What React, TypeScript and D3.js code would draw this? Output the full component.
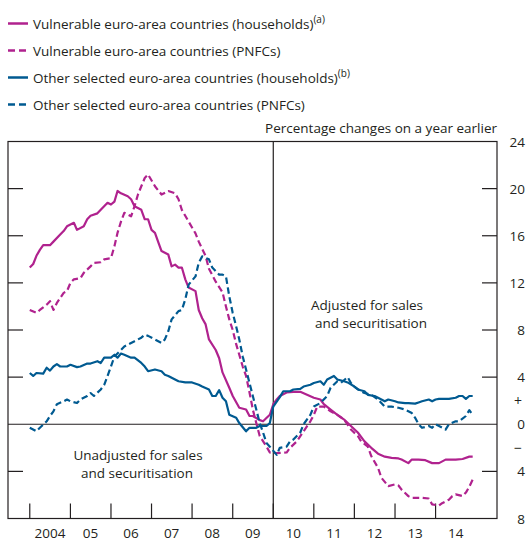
import React from "react";
import * as d3 from "d3";

// readings, percentage changes on a year earlier
const vulnerableHouseholds: [string, number][] = [
  ["2004-01", 13.3], ["2004-02", 13.6], ["2004-03", 14.3], ["2004-04", 14.8], ["2004-05", 15.2],
  ["2004-07", 15.2], ["2004-08", 15.5], ["2004-10", 16.1], ["2004-11", 16.4], ["2004-12", 16.8],
  ["2005-02", 17.1], ["2005-03", 16.5], ["2005-05", 16.8], ["2005-06", 17.4], ["2005-07", 17.7],
  ["2005-09", 17.9], ["2005-10", 18.2], ["2005-12", 18.8], ["2006-01", 18.65], ["2006-02", 18.9],
  ["2006-03", 19.8], ["2006-04", 19.6], ["2006-06", 19.35], ["2006-07", 19.1], ["2006-08", 18.5],
  ["2006-10", 18.2], ["2006-11", 17.4], ["2006-12", 17.4], ["2007-01", 16.5], ["2007-02", 16.25],
  ["2007-03", 15.5], ["2007-04", 14.7], ["2007-06", 14.4], ["2007-07", 13.4], ["2007-08", 13.55],
  ["2007-09", 13.3], ["2007-10", 13.3], ["2007-11", 12.3], ["2007-12", 11.6], ["2008-02", 11.3],
  ["2008-03", 9.7], ["2008-04", 9.0], ["2008-05", 8.5], ["2008-06", 7.2], ["2008-08", 6.3],
  ["2008-09", 5.6], ["2008-10", 4.4], ["2008-12", 3.1], ["2009-01", 2.4], ["2009-03", 1.4],
  ["2009-05", 1.25], ["2009-06", 0.7], ["2009-07", 0.7], ["2009-09", 0.35], ["2009-10", 0.25],
  ["2009-12", 0.8], ["2010-01", 1.7], ["2010-02", 2.1], ["2010-03", 2.4], ["2010-05", 2.7],
  ["2010-07", 2.75], ["2010-09", 2.75], ["2010-11", 2.5], ["2011-01", 2.25], ["2011-03", 2.1],
  ["2011-04", 1.7], ["2011-06", 1.25], ["2011-08", 0.8], ["2011-10", 0.4], ["2011-12", -0.15],
  ["2012-02", -0.7], ["2012-04", -1.45], ["2012-06", -2.0], ["2012-08", -2.5], ["2012-10", -2.75],
  ["2012-12", -2.85], ["2013-02", -2.9], ["2013-03", -3.0], ["2013-05", -3.3], ["2013-06", -3.0],
  ["2013-08", -3.0], ["2013-10", -3.05], ["2013-12", -3.3], ["2014-02", -3.3], ["2014-04", -3.0],
  ["2014-07", -3.0], ["2014-09", -2.95], ["2014-11", -2.75], ["2014-12", -2.75],
];

const vulnerablePNFCs: [string, number][] = [
  ["2004-01", 9.7], ["2004-03", 9.45], ["2004-04", 9.7], ["2004-06", 10.15], ["2004-07", 10.45],
  ["2004-08", 9.7], ["2004-09", 10.3], ["2004-11", 11.15], ["2004-12", 11.3], ["2005-01", 12.0],
  ["2005-02", 12.3], ["2005-04", 12.4], ["2005-05", 12.85], ["2005-07", 13.4], ["2005-08", 13.7],
  ["2005-10", 13.75], ["2005-11", 14.0], ["2006-01", 14.1], ["2006-02", 15.1], ["2006-03", 16.25],
  ["2006-04", 17.2], ["2006-05", 17.95], ["2006-06", 17.8], ["2006-07", 17.65], ["2006-08", 18.5],
  ["2006-09", 19.5], ["2006-10", 20.2], ["2006-11", 20.9], ["2006-12", 21.2], ["2007-02", 20.2],
  ["2007-04", 19.5], ["2007-06", 19.8], ["2007-08", 19.6], ["2007-09", 19.1], ["2007-10", 18.2],
  ["2007-12", 17.2], ["2008-02", 16.2], ["2008-03", 15.5], ["2008-05", 14.3], ["2008-06", 13.2],
  ["2008-08", 12.1], ["2008-10", 11.2], ["2008-11", 10.0], ["2008-12", 8.9], ["2009-01", 8.0],
  ["2009-02", 6.8], ["2009-04", 4.9], ["2009-05", 4.1], ["2009-06", 2.7], ["2009-07", 1.25],
  ["2009-08", 0.1], ["2009-09", -1.0], ["2009-11", -1.9], ["2009-12", -2.4], ["2010-02", -2.45],
  ["2010-05", -2.4], ["2010-06", -2.0], ["2010-08", -1.45], ["2010-10", -0.6], ["2010-12", 0.25],
  ["2011-01", 0.8], ["2011-02", 1.5], ["2011-04", 1.5], ["2011-06", 1.1], ["2011-08", 0.8],
  ["2011-10", 0.4], ["2011-12", -0.45], ["2012-02", -1.0], ["2012-03", -1.45], ["2012-05", -1.9],
  ["2012-06", -2.7], ["2012-08", -3.7], ["2012-09", -4.55], ["2012-11", -5.25], ["2013-01", -5.1],
  ["2013-02", -5.2], ["2013-03", -5.55], ["2013-05", -6.1], ["2013-06", -6.25], ["2013-09", -6.25],
  ["2013-11", -6.3], ["2013-12", -6.8], ["2014-02", -6.9], ["2014-03", -6.7], ["2014-05", -6.4],
  ["2014-06", -6.1], ["2014-07", -5.95], ["2014-09", -6.1], ["2014-10", -5.8], ["2014-11", -5.3],
  ["2014-12", -4.7],
];

const otherHouseholds: [string, number][] = [
  ["2004-01", 4.35], ["2004-02", 4.1], ["2004-03", 4.35], ["2004-05", 4.3], ["2004-06", 4.8],
  ["2004-07", 4.55], ["2004-08", 4.9], ["2004-09", 5.1], ["2004-10", 4.9], ["2004-12", 4.9],
  ["2005-01", 5.05], ["2005-03", 4.85], ["2005-04", 4.9], ["2005-06", 5.15], ["2005-07", 5.15],
  ["2005-09", 5.35], ["2005-10", 5.2], ["2005-11", 5.65], ["2006-01", 5.65], ["2006-02", 5.9],
  ["2006-03", 5.65], ["2006-04", 6.0], ["2006-05", 5.9], ["2006-07", 5.65], ["2006-08", 5.65],
  ["2006-10", 5.2], ["2006-11", 4.9], ["2006-12", 4.5], ["2007-02", 4.65], ["2007-04", 4.5],
  ["2007-05", 4.2], ["2007-06", 4.1], ["2007-08", 3.8], ["2007-09", 3.65], ["2007-11", 3.55],
  ["2008-01", 3.55], ["2008-03", 3.35], ["2008-04", 3.2], ["2008-06", 2.95], ["2008-07", 2.4],
  ["2008-08", 2.4], ["2008-09", 2.9], ["2008-10", 2.25], ["2008-11", 1.95], ["2008-12", 0.8],
  ["2009-02", 0.55], ["2009-03", 0.1], ["2009-05", -0.6], ["2009-06", -0.3], ["2009-08", -0.3],
  ["2009-09", -0.15], ["2009-11", -0.15], ["2009-12", 0.1], ["2010-01", 1.5], ["2010-03", 2.3],
  ["2010-04", 2.8], ["2010-06", 2.8], ["2010-07", 2.95], ["2010-09", 3.0], ["2010-10", 3.2],
  ["2010-12", 3.35], ["2011-01", 3.5], ["2011-03", 3.65], ["2011-04", 3.35], ["2011-05", 3.8],
  ["2011-07", 4.1], ["2011-08", 3.8], ["2011-10", 3.65], ["2011-11", 3.55], ["2012-01", 3.2],
  ["2012-02", 2.95], ["2012-04", 2.8], ["2012-05", 2.5], ["2012-07", 2.4], ["2012-08", 2.25],
  ["2012-10", 1.95], ["2012-11", 2.1], ["2013-01", 1.95], ["2013-02", 1.85], ["2013-04", 1.8],
  ["2013-05", 1.8], ["2013-07", 1.75], ["2013-08", 1.85], ["2013-09", 1.95], ["2013-11", 2.1],
  ["2013-12", 1.95], ["2014-01", 2.1], ["2014-02", 2.15], ["2014-04", 2.15], ["2014-05", 2.15],
  ["2014-07", 2.25], ["2014-08", 2.4], ["2014-09", 2.4], ["2014-10", 2.15], ["2014-11", 2.4],
  ["2014-12", 2.4],
];

const otherPNFCs: [string, number][] = [
  ["2004-01", -0.3], ["2004-03", -0.6], ["2004-04", -0.3], ["2004-06", 0.25], ["2004-07", 0.7],
  ["2004-08", 1.1], ["2004-09", 1.7], ["2004-11", 1.95], ["2004-12", 2.1], ["2005-01", 1.95],
  ["2005-03", 1.8], ["2005-04", 2.1], ["2005-06", 2.4], ["2005-07", 2.65], ["2005-08", 2.4],
  ["2005-10", 2.95], ["2005-11", 3.35], ["2005-12", 4.1], ["2006-01", 4.9], ["2006-02", 5.75],
  ["2006-04", 6.3], ["2006-05", 6.6], ["2006-07", 6.9], ["2006-08", 7.05], ["2006-10", 7.35],
  ["2006-11", 7.6], ["2006-12", 7.5], ["2007-02", 7.2], ["2007-04", 6.9], ["2007-05", 7.2],
  ["2007-06", 7.9], ["2007-07", 8.9], ["2007-09", 9.6], ["2007-10", 9.7], ["2007-11", 10.6],
  ["2007-12", 11.85], ["2008-02", 12.55], ["2008-03", 13.7], ["2008-04", 14.25], ["2008-06", 14.0],
  ["2008-07", 13.3], ["2008-09", 12.7], ["2008-10", 12.7], ["2008-11", 12.55], ["2008-12", 10.85],
  ["2009-01", 9.45], ["2009-02", 8.3], ["2009-03", 7.2], ["2009-04", 5.75], ["2009-05", 4.65],
  ["2009-06", 3.5], ["2009-07", 2.4], ["2009-08", 1.25], ["2009-09", 0.1], ["2009-10", -0.7],
  ["2009-11", -1.6], ["2009-12", -1.9], ["2010-02", -2.6], ["2010-03", -2.0], ["2010-05", -1.9],
  ["2010-06", -1.45], ["2010-07", -1.3], ["2010-09", -0.7], ["2010-10", 0.0], ["2010-12", 0.8],
  ["2011-01", 1.5], ["2011-03", 1.8], ["2011-05", 2.4], ["2011-06", 3.1], ["2011-08", 3.65],
  ["2011-09", 3.5], ["2011-11", 4.0], ["2011-12", 3.5], ["2012-01", 3.2], ["2012-03", 2.8],
  ["2012-04", 2.65], ["2012-06", 2.5], ["2012-08", 2.1], ["2012-10", 1.5], ["2012-12", 1.5],
  ["2013-02", 1.4], ["2013-04", 1.25], ["2013-06", 0.95], ["2013-07", 0.55], ["2013-08", 0.0],
  ["2013-09", -0.3], ["2013-11", -0.15], ["2013-12", -0.3], ["2014-01", 0.0], ["2014-02", -0.15],
  ["2014-04", -0.45], ["2014-05", 0.0], ["2014-07", 0.25], ["2014-08", 0.25], ["2014-10", 0.7],
  ["2014-11", 1.2], ["2014-12", 0.8],
];

const years = [2004, 2005, 2006, 2007, 2008, 2009, 2010, 2011, 2012, 2013, 2014];
const yearLabels = ["2004", "05", "06", "07", "08", "09", "10", "11", "12", "13", "14"];
const yTicks = [24, 20, 16, 12, 8, 4, 0, -4, -8];

const MAGENTA = "#b0228e";
const BLUE = "#005a91";
const INK = "#231f20";
const FONT = "'Open Sans', sans-serif";

const series = [
  { name: "Vulnerable euro-area countries (households)", sup: "(a)", data: vulnerableHouseholds, color: MAGENTA, dashed: false },
  { name: "Vulnerable euro-area countries (PNFCs)", sup: "", data: vulnerablePNFCs, color: MAGENTA, dashed: true },
  { name: "Other selected euro-area countries (households)", sup: "(b)", data: otherHouseholds, color: BLUE, dashed: false },
  { name: "Other selected euro-area countries (PNFCs)", sup: "", data: otherPNFCs, color: BLUE, dashed: true },
];

const parse = d3.timeParse("%Y-%m");

export default function App() {
  const width = 526;
  const height = 541;
  const left = 8, right = 497, top = 141.5, bottom = 518.5;

  const x = d3.scaleTime()
    .domain([new Date(2003, 5, 19), new Date(2015, 6, 8)])
    .range([left, right]);
  const y = d3.scaleLinear().domain([-8, 24]).range([bottom, top]);

  const line = d3.line<[string, number]>()
    .x((d) => x(parse(d[0])!))
    .y((d) => y(d[1]));

  const divider = x(new Date(2010, 0, 1));
  const tickLen = 15;

  return (
    <svg width={width} height={height} style={{ position: "absolute", left: 0, top: 0 }} fontFamily={FONT}>
      {/* legend */}
      {series.map((s, i) => {
        const ly = 23.5 + i * 27;
        return (
          <g key={s.name}>
            <line x1={8} x2={28} y1={ly} y2={ly} stroke={s.color} strokeWidth={2.5}
              strokeDasharray={s.dashed ? "7,4" : undefined} />
            <text x={33} y={ly + 5} fontSize={13.5} fill={INK}>
              {s.name}
              {s.sup && <tspan fontSize={10} dy={-6}>{s.sup}</tspan>}
            </text>
          </g>
        );
      })}

      <text x={right} y={133} textAnchor="end" fontSize={13.5} fill={INK}>
        Percentage changes on a year earlier
      </text>

      {/* zero line and divider */}
      <line x1={left} x2={right} y1={y(0)} y2={y(0)} stroke={INK} strokeWidth={1.2} />
      <line x1={divider} x2={divider} y1={top} y2={bottom} stroke={INK} strokeWidth={1.2} />

      {/* y ticks, both sides */}
      {yTicks.filter((v) => v !== 0 && v !== 24 && v !== -8).map((v) => (
        <g key={v}>
          <line x1={left} x2={left + tickLen} y1={y(v)} y2={y(v)} stroke={INK} strokeWidth={1.2} />
          <line x1={right - tickLen} x2={right} y1={y(v)} y2={y(v)} stroke={INK} strokeWidth={1.2} />
        </g>
      ))}
      {yTicks.map((v) => (
        <text key={v} x={525} y={y(v) + 5} textAnchor="end" fontSize={13.5} fill={INK}>
          {Math.abs(v)}
        </text>
      ))}
      <text x={522} y={y(2) + 5} textAnchor="end" fontSize={14} fill={INK}>+</text>
      <text x={522} y={y(-2) + 5} textAnchor="end" fontSize={14} fill={INK}>−</text>

      {/* x ticks */}
      {years.map((yr, i) => (
        <g key={yr}>
          <line x1={x(new Date(yr, 0, 1))} x2={x(new Date(yr, 0, 1))} y1={bottom} y2={bottom - tickLen}
            stroke={INK} strokeWidth={1.2} />
          <text x={x(new Date(yr, 6, 1))} y={538} textAnchor="middle" fontSize={13.5} fill={INK}>
            {yearLabels[i]}
          </text>
        </g>
      ))}

      {/* series */}
      {series.map((s) => (
        <path key={s.name} d={line(s.data)!} fill="none" stroke={s.color} strokeWidth={2.2}
          strokeDasharray={s.dashed ? "6.5,3.5" : undefined} strokeLinejoin="round" />
      ))}

      {/* annotations */}
      <text textAnchor="middle" fontSize={13.5} fill={INK}>
        <tspan x={367} y={310}>Adjusted for sales</tspan>
        <tspan x={371} y={328}>and securitisation</tspan>
      </text>
      <text textAnchor="middle" fontSize={13.5} fill={INK}>
        <tspan x={138} y={460}>Unadjusted for sales</tspan>
        <tspan x={137} y={478}>and securitisation</tspan>
      </text>

      {/* frame */}
      <rect x={left} y={top} width={right - left} height={bottom - top} fill="none" stroke={INK} strokeWidth={1.2} />
    </svg>
  );
}
